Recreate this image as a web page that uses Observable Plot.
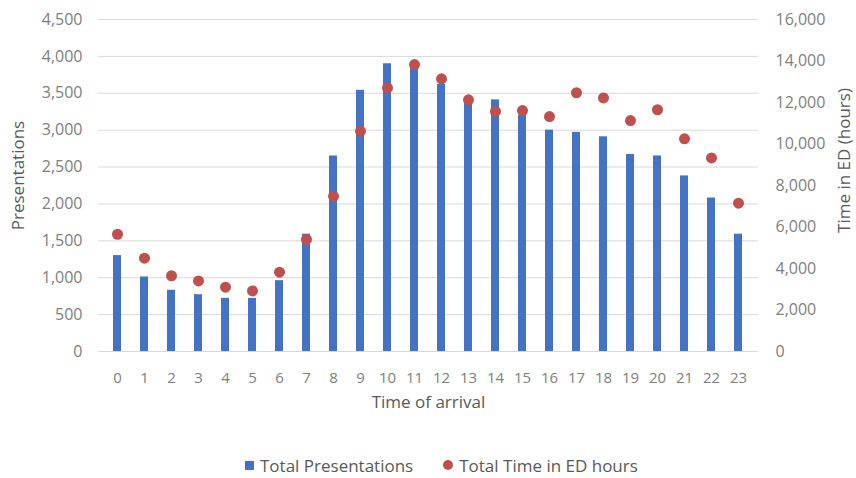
<!DOCTYPE html>
<html><head><meta charset="utf-8">
<script src="https://cdn.jsdelivr.net/npm/d3@7"></script>
<script src="https://cdn.jsdelivr.net/npm/@observablehq/plot@0.6"></script>
<style>
body{margin:0;background:#fff;font-family:"Open Sans",sans-serif;}
#chart{position:relative;width:856px;height:478px;overflow:hidden;}
#legend{position:absolute;left:245px;top:454px;height:22px;display:flex;align-items:center;font-size:17px;color:#595959;white-space:nowrap;}
#legend .sq{display:inline-block;width:9px;height:9px;background:#4472c4;margin-right:6px;}
#legend .ci{display:inline-block;width:10px;height:10px;border-radius:50%;background:#c0504d;margin-left:30px;margin-right:6px;}
</style></head><body>
<div id="chart"><div id="plot"></div>
<div id="legend"><span class="sq"></span><span>Total Presentations</span><span class="ci"></span><span>Total Time in ED hours</span></div>
</div>
<script>
const hours = [0,1,2,3,4,5,6,7,8,9,10,11,12,13,14,15,16,17,18,19,20,21,22,23];
const presentations = [1300,1010,830,770,720,720,960,1590,2650,3540,3900,3850,3620,3400,3410,3200,3000,2970,2910,2670,2650,2380,2080,1590];
const timeInED = [5650,4500,3650,3400,3100,2920,3820,5400,7480,10620,12700,13830,13140,12130,11570,11610,11320,12470,12220,11130,11650,10250,9330,7150];
const leftTicks = [0,500,1000,1500,2000,2500,3000,3500,4000,4500];
const rightTicks = [0,2000,4000,6000,8000,10000,12000,14000,16000];
const leftMax = 4500, rightMax = 16000;
const k = leftMax / rightMax;

const data = hours.map((h, i) => ({hour: h, pres: presentations[i], time: timeInED[i]}));
const fmt = d3.format(",");

const chart = Plot.plot({
  width: 856, height: 425,
  marginLeft: 98, marginRight: 98, marginTop: 19, marginBottom: 74,
  style: {fontFamily: "Open Sans", fontSize: "15px", color: "#808080", background: "transparent", overflow: "visible"},
  x: {type: "band", domain: hours, paddingInner: 0.69, paddingOuter: 0.345},
  y: {domain: [0, leftMax]},
  marks: [
    Plot.gridY(leftTicks, {stroke: "#d9d9d9", strokeOpacity: 1}),
    Plot.barY(data, {x: "hour", y: "pres", fill: "#4472c4"}),
    Plot.dot(data, {x: "hour", y: d => d.time * k, r: 5.5, fill: "#c0504d"}),
    Plot.axisY(leftTicks, {anchor: "left", tickSize: 0, tickPadding: 16, tickFormat: fmt, label: null, fontSize: 16}),
    Plot.axisY(rightTicks.map(v => v * k), {anchor: "right", tickSize: 0, tickPadding: 17, tickFormat: d => fmt(Math.round(d / k)), label: null, fontSize: 16}),
    Plot.axisX(hours, {tickSize: 0, tickPadding: 21, label: null, fontSize: 15}),
    Plot.text(["Presentations"], {frameAnchor: "left", textAnchor: "middle", dx: -80, dy: -10, rotate: -90, fill: "#595959", fontSize: 17}),
    Plot.text(["Time in ED (hours)"], {frameAnchor: "right", textAnchor: "middle", dx: 86, dy: -25, rotate: -90, fill: "#595959", fontSize: 17}),
    Plot.text(["Time of arrival"], {frameAnchor: "bottom", dy: 56, fill: "#595959", fontSize: 17})
  ]
});
document.getElementById("plot").appendChild(chart);
</script>
</body></html>
